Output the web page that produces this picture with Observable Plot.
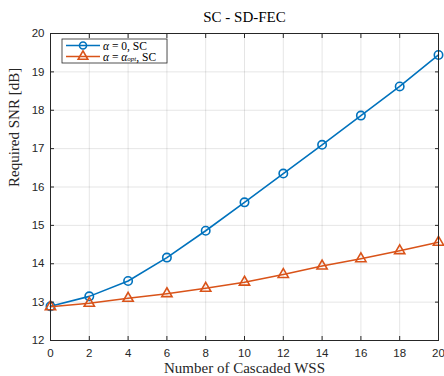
<!DOCTYPE html>
<html><head><meta charset="utf-8">
<script src="https://cdn.jsdelivr.net/npm/d3@7"></script>
<script src="https://cdn.jsdelivr.net/npm/@observablehq/plot@0.6"></script>
<style>body{margin:0;background:#fff}</style>
</head><body><div id="chart"></div>
<script>
const wss = [0, 2, 4, 6, 8, 10, 12, 14, 16, 18, 20];
const snrAlpha0 = [12.89, 13.15, 13.55, 14.16, 14.86, 15.6, 16.35, 17.1, 17.86, 18.62, 19.44];
const snrAlphaOpt = [12.88, 12.97, 13.1, 13.22, 13.36, 13.52, 13.72, 13.94, 14.13, 14.34, 14.56];
const xTicks = [0, 2, 4, 6, 8, 10, 12, 14, 16, 18, 20];
const yTicks = [12, 13, 14, 15, 16, 17, 18, 19, 20];
const colors = ["#0072BD", "#D95319"];

const s1 = wss.map((x, i) => ({x, y: snrAlpha0[i]}));
const s2 = wss.map((x, i) => ({x, y: snrAlphaOpt[i]}));

const sans = "Liberation Sans, Arial, sans-serif";
const serif = "Liberation Serif, Times New Roman, serif";
const axc = "#262626";

const plot = Plot.plot({
  width: 444, height: 376,
  marginLeft: 50, marginRight: 6, marginTop: 33, marginBottom: 36,
  style: {fontFamily: sans, fontSize: "11.5px", color: axc, background: "#fff"},
  x: {domain: [0, 20]},
  y: {domain: [12, 20]},
  marks: [
    Plot.gridX(xTicks, {stroke: "#000", strokeOpacity: 0.1}),
    Plot.gridY(yTicks, {stroke: "#000", strokeOpacity: 0.1}),
    Plot.line(s1, {x: "x", y: "y", stroke: colors[0], strokeWidth: 1.6}),
    Plot.dot(s1, {x: "x", y: "y", stroke: colors[0], r: 4.2, strokeWidth: 1.6, fill: "none"}),
    Plot.line(s2, {x: "x", y: "y", stroke: colors[1], strokeWidth: 1.6}),
    Plot.dot(s2, {x: "x", y: "y", stroke: colors[1], symbol: "triangle", r: 3.8, strokeWidth: 1.6, fill: "none"}),
    Plot.frame({stroke: axc}),
    Plot.axisX(xTicks, {anchor: "bottom", tickSize: -4, tickPadding: 12, label: null, stroke: axc, fill: axc}),
    Plot.axisX(xTicks, {anchor: "top", tickSize: -4, tickFormat: () => "", label: null, stroke: axc}),
    Plot.axisY(yTicks, {anchor: "left", tickSize: -4, tickPadding: 10, label: null, stroke: axc, fill: axc}),
    Plot.axisY(yTicks, {anchor: "right", tickSize: -4, tickFormat: () => "", label: null, stroke: axc}),
    Plot.text(["SC - SD-FEC"], {frameAnchor: "top", dy: -16, lineAnchor: "middle", fontFamily: serif, fontSize: 15, fill: "#000"}),
    Plot.text(["Number of Cascaded WSS"], {frameAnchor: "bottom", dy: 28, lineAnchor: "middle", fontFamily: serif, fontSize: 15, fill: axc}),
    Plot.text(["Required SNR [dB]"], {frameAnchor: "left", dx: -36, lineAnchor: "middle", rotate: -90, fontFamily: serif, fontSize: 15, fill: axc})
  ]
});
document.getElementById("chart").appendChild(plot);

// Legend
const svg = d3.select(plot);
const lg = svg.append("g").attr("transform", "translate(62,39)");
lg.append("rect").attr("x", 0).attr("y", 0).attr("width", 105).attr("height", 24)
  .attr("fill", "#fff").attr("stroke", axc).attr("stroke-width", 0.8);
const rows = [
  {c: colors[0], sym: "circle", y: 6.5},
  {c: colors[1], sym: "triangle", y: 17.5}
];
rows.forEach((r) => {
  lg.append("line").attr("x1", 4).attr("x2", 38).attr("y1", r.y).attr("y2", r.y)
    .attr("stroke", r.c).attr("stroke-width", 1.6);
  if (r.sym === "circle") {
    lg.append("circle").attr("cx", 21).attr("cy", r.y).attr("r", 3.5)
      .attr("fill", "none").attr("stroke", r.c).attr("stroke-width", 1.6);
  } else {
    lg.append("path").attr("d", d3.symbol(d3.symbolTriangle, 40)())
      .attr("transform", `translate(21,${r.y})`)
      .attr("fill", "none").attr("stroke", r.c).attr("stroke-width", 1.6);
  }
});
function txt(x, y, s, opts = {}) {
  const t = lg.append("text").attr("x", x).attr("y", y).attr("dy", "0.35em")
    .attr("text-anchor", "start").attr("font-family", serif)
    .attr("font-size", opts.size || 11.5).attr("fill", "#000")
    .attr("font-style", opts.italic ? "italic" : "normal").text(s);
  return x + t.node().getComputedTextLength();
}
let x = txt(41, 6.5, "α", {italic: true});
txt(x, 6.5, " = 0, SC");
x = txt(41, 17.5, "α", {italic: true});
x = txt(x, 17.5, " = ");
x = txt(x, 17.5, "α", {italic: true});
x = txt(x, 19.5, "opt", {italic: true, size: 7});
txt(x, 17.5, ", SC");
</script></body></html>
